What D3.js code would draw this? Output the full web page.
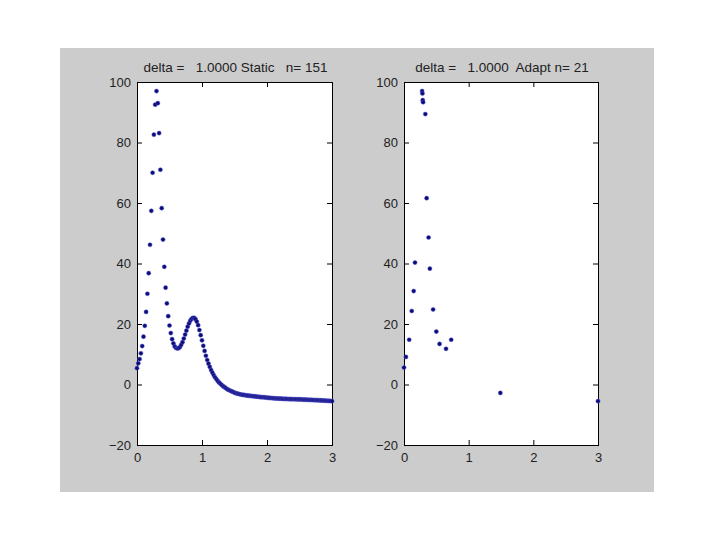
<!DOCTYPE html>
<html>
<head>
<meta charset="utf-8">
<script src="https://cdn.jsdelivr.net/npm/d3@7"></script>
<style>
  html, body { margin: 0; padding: 0; background: #ffffff; }
  svg { display: block; }
</style>
</head>
<body>
<svg id="chart" width="720" height="540"></svg>
<script>
// ---------------- data ----------------
const staticTitle = "delta =   1.0000 Static   n= 151";
const adaptTitle = "delta =   1.0000  Adapt n= 21";

const staticX = [
  0.00,0.02,0.04,0.06,0.08,0.10,0.12,0.14,0.16,0.18,
  0.20,0.22,0.24,0.26,0.28,0.30,0.32,0.34,0.36,0.38,
  0.40,0.42,0.44,0.46,0.48,0.50,0.52,0.54,0.56,0.58,
  0.60,0.62,0.64,0.66,0.68,0.70,0.72,0.74,0.76,0.78,
  0.80,0.82,0.84,0.86,0.88,0.90,0.92,0.94,0.96,0.98,
  1.00,1.02,1.04,1.06,1.08,1.10,1.12,1.14,1.16,1.18,
  1.20,1.22,1.24,1.26,1.28,1.30,1.32,1.34,1.36,1.38,
  1.40,1.42,1.44,1.46,1.48,1.50,1.52,1.54,1.56,1.58,
  1.60,1.62,1.64,1.66,1.68,1.70,1.72,1.74,1.76,1.78,
  1.80,1.82,1.84,1.86,1.88,1.90,1.92,1.94,1.96,1.98,
  2.00,2.02,2.04,2.06,2.08,2.10,2.12,2.14,2.16,2.18,
  2.20,2.22,2.24,2.26,2.28,2.30,2.32,2.34,2.36,2.38,
  2.40,2.42,2.44,2.46,2.48,2.50,2.52,2.54,2.56,2.58,
  2.60,2.62,2.64,2.66,2.68,2.70,2.72,2.74,2.76,2.78,
  2.80,2.82,2.84,2.86,2.88,2.90,2.92,2.94,2.96,2.98,
  3.00
];
const staticY = [
  5.4,7.0,8.4,10.3,12.7,15.8,19.4,24.0,30.0,36.8,
  46.2,57.4,70.0,82.6,92.5,97.0,93.0,83.1,71.0,58.3,
  47.9,38.9,32.0,26.8,22.6,19.5,17.0,15.0,13.6,12.6,
  12.1,11.9,12.0,12.4,13.1,14.0,15.2,16.5,17.8,19.1,
  20.2,21.1,21.7,22.0,22.0,21.6,20.8,19.6,18.0,16.3,
  14.6,12.8,11.1,9.5,8.1,6.9,5.8,4.8,3.9,3.1,
  2.4,1.8,1.2,0.7,0.3,-0.1,-0.5,-0.8,-1.1,-1.4,
  -1.7,-1.9,-2.1,-2.3,-2.5,-2.7,-2.85,-3.0,-3.1,-3.2,
  -3.3,-3.4,-3.45,-3.5,-3.6,-3.65,-3.7,-3.75,-3.8,-3.85,
  -3.9,-3.95,-4.0,-4.05,-4.1,-4.15,-4.2,-4.22,-4.25,-4.3,
  -4.35,-4.4,-4.43,-4.47,-4.5,-4.55,-4.58,-4.6,-4.63,-4.65,
  -4.68,-4.7,-4.72,-4.74,-4.76,-4.78,-4.8,-4.82,-4.83,-4.85,
  -4.86,-4.87,-4.88,-4.89,-4.9,-4.92,-4.94,-4.96,-4.98,-5.0,
  -5.02,-5.04,-5.06,-5.08,-5.1,-5.12,-5.14,-5.16,-5.18,-5.2,
  -5.22,-5.25,-5.28,-5.3,-5.33,-5.35,-5.38,-5.4,-5.43,-5.46,
  -5.5
];

const adaptX = [0.00,0.03,0.08,0.12,0.15,0.17,0.28,0.285,0.29,0.295,0.33,0.35,0.38,0.40,0.45,0.50,0.55,0.65,0.73,1.49,3.00];
const adaptY = [5.6,9.1,14.8,24.3,30.9,40.3,97.0,96.2,94.0,93.3,89.4,61.6,48.6,38.3,24.8,17.5,13.4,11.8,14.8,-2.8,-5.5];

const xTicks = [0, 1, 2, 3];
const yTicks = [-20, 0, 20, 40, 60, 80, 100];

// ---------------- layout ----------------
const svg = d3.select("#chart");
svg.append("rect").attr("x", 60).attr("y", 48).attr("width", 594).attr("height", 444).attr("fill", "#cccccc");

const FONT = "'Liberation Sans', Arial, sans-serif";

function panel(left, right, top, bottom, xs, ys, title) {
  const x = d3.scaleLinear().domain([0, 3]).range([left, right]);
  const y = d3.scaleLinear().domain([-20, 100]).range([bottom, top]);
  const g = svg.append("g");

  g.append("rect").attr("x", left).attr("y", top)
    .attr("width", right - left).attr("height", bottom - top)
    .attr("fill", "#ffffff");

  const styleAxis = sel => {
    sel.select(".domain").remove();
    sel.selectAll(".tick line").attr("stroke", "#000").attr("stroke-width", 1);
    sel.selectAll(".tick text").attr("fill", "#222").style("font-family", FONT).style("font-size", "13px");
  };

  g.append("g").attr("transform", `translate(0,${bottom})`)
    .call(d3.axisBottom(x).tickValues(xTicks).tickSizeInner(-5).tickSizeOuter(0).tickPadding(8).tickFormat(d3.format("d")))
    .call(styleAxis);
  g.append("g").attr("transform", `translate(0,${top})`)
    .call(d3.axisTop(x).tickValues(xTicks).tickSizeInner(-5).tickSizeOuter(0).tickFormat(""))
    .call(styleAxis);
  g.append("g").attr("transform", `translate(${left},0)`)
    .call(d3.axisLeft(y).tickValues(yTicks).tickSizeInner(-5).tickSizeOuter(0).tickPadding(6).tickFormat(d3.format("d")))
    .call(styleAxis);
  g.append("g").attr("transform", `translate(${right},0)`)
    .call(d3.axisRight(y).tickValues(yTicks).tickSizeInner(-5).tickSizeOuter(0).tickFormat(""))
    .call(styleAxis);

  g.append("rect").attr("x", left + 0.5).attr("y", top + 0.5)
    .attr("width", right - left).attr("height", bottom - top)
    .attr("fill", "none").attr("stroke", "#000").attr("stroke-width", 1);

  g.append("text").attr("x", (left + right) / 2 + 1).attr("y", top - 10)
    .attr("text-anchor", "middle").style("font-family", FONT).style("font-size", "13.5px")
    .attr("fill", "#222").attr("xml:space", "preserve").style("white-space", "pre")
    .text(title);

  g.append("g").selectAll("circle").data(xs.map((v, i) => [v, ys[i]])).join("circle")
    .attr("cx", d => x(d[0])).attr("cy", d => y(d[1])).attr("r", 2.1)
    .attr("fill", "#0c0c78")
    .attr("stroke", "#5a5ad8").attr("stroke-opacity", 0.45).attr("stroke-width", 1);
}

panel(137, 332, 82, 445, staticX, staticY, staticTitle);
panel(404, 598, 82, 445, adaptX, adaptY, adaptTitle);
</script>
</body>
</html>
